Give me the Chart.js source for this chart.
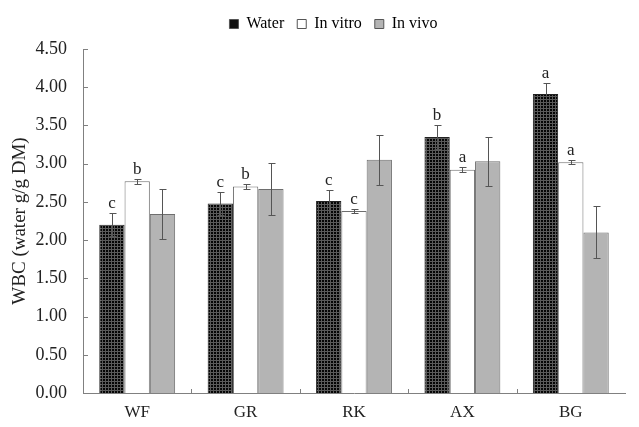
<!DOCTYPE html>
<html>
<head>
<meta charset="utf-8">
<script src="https://cdn.jsdelivr.net/npm/chart.js@4.4.0/dist/chart.umd.min.js"></script>
<style>
  html, body { margin: 0; padding: 0; background: #fff; }
  #wrap { width: 639px; height: 427px; }
</style>
</head>
<body>
<div id="wrap"><canvas id="grafico" width="639" height="427"></canvas></div>
<script>
// dados
const categorias = ['WF', 'GR', 'RK', 'AX', 'BG'];
const water = [2.20, 2.48, 2.51, 3.35, 3.91];
const waterErr = [0.15, 0.15, 0.15, 0.16, 0.14];
const inVitro = [2.77, 2.70, 2.38, 2.92, 3.02];
const inVitroErr = [0.03, 0.03, 0.03, 0.03, 0.03];
const inVivo = [2.34, 2.67, 3.05, 3.03, 2.10];
const inVivoErr = [0.33, 0.34, 0.33, 0.32, 0.34];
const waterLetras = ['c', 'c', 'c', 'b', 'a'];
const inVitroLetras = ['b', 'b', 'c', 'a', 'a'];
const inVivoLetras = ['', '', '', '', ''];
const yTicks = [0, 0.5, 1, 1.5, 2, 2.5, 3, 3.5, 4, 4.5];

const fonte = '"Liberation Serif", "Times New Roman", serif';

// padrão quadriculado da série Water
function criaPadrao() {
    const c = document.createElement('canvas');
    c.width = 3; c.height = 3;
    const g = c.getContext('2d');
    g.fillStyle = '#050505';
    g.fillRect(0, 0, 3, 3);
    g.fillStyle = '#5a5a5a';
    g.fillRect(0, 0, 3, 1);
    g.fillRect(0, 0, 1, 3);
    return document.getElementById('grafico').getContext('2d').createPattern(c, 'repeat');
}

const errosPorSerie = [waterErr, inVitroErr, inVivoErr];
const letrasPorSerie = [waterLetras, inVitroLetras, inVivoLetras];

// barras de erro, letras e marcas internas dos eixos
const extras = {
    id: 'extras',
    afterLayout(chart) {
        // ajusta a posição da legenda, como no original
        if (chart.legend) {
            chart.legend.left += 21;
            chart.legend.right += 21;
            chart.legend.top -= 7;
            chart.legend.bottom -= 7;
        }
    },
    afterDatasetsDraw(chart) {
        const ctx = chart.ctx;
        const y = chart.scales.y;
        const x = chart.scales.x;
        const area = chart.chartArea;
        ctx.save();
        ctx.strokeStyle = '#555';
        ctx.lineWidth = 1;
        chart.data.datasets.forEach(function(ds, d) {
            const meta = chart.getDatasetMeta(d);
            meta.data.forEach(function(bar, i) {
                const v = ds.data[i];
                const e = errosPorSerie[d][i];
                const bx = Math.round(bar.x) + 0.5;
                const yt = Math.round(y.getPixelForValue(v + e)) + 0.5;
                const yb = Math.round(y.getPixelForValue(v - e)) + 0.5;
                ctx.beginPath();
                ctx.moveTo(bx, yt); ctx.lineTo(bx, yb);
                ctx.moveTo(bx - 3, yt); ctx.lineTo(bx + 4, yt);
                ctx.moveTo(bx - 3, yb); ctx.lineTo(bx + 4, yb);
                ctx.stroke();
                const letra = letrasPorSerie[d][i];
                if (letra) {
                    ctx.fillStyle = '#222';
                    ctx.font = '17px ' + fonte;
                    ctx.textAlign = 'center';
                    ctx.textBaseline = 'alphabetic';
                    ctx.fillText(letra, bar.x, yt - 6);
                }
            });
        });
        // marcas do eixo y para dentro
        ctx.strokeStyle = '#808080';
        yTicks.forEach(function(t) {
            const py = Math.round(y.getPixelForValue(t)) + 0.5;
            ctx.beginPath();
            ctx.moveTo(area.left, py); ctx.lineTo(area.left + 5, py);
            ctx.stroke();
        });
        // marcas do eixo x entre categorias
        for (let i = 1; i < categorias.length; i++) {
            const px = Math.round((x.getPixelForValue(i - 1) + x.getPixelForValue(i)) / 2) + 0.5;
            ctx.beginPath();
            ctx.moveTo(px, area.bottom); ctx.lineTo(px, area.bottom - 4);
            ctx.stroke();
        }
        ctx.restore();
    }
};

document.addEventListener('DOMContentLoaded', function() {
    const ctx = document.getElementById('grafico').getContext('2d');
    const padrao = criaPadrao();
    const legendaCores = ['#111', '#fff', '#b4b4b4'];

    new Chart(ctx, {
        type: 'bar',
        data: {
            labels: categorias,
            datasets: [
                { label: 'Water', data: water, backgroundColor: padrao, borderColor: '#222', borderWidth: 1 },
                { label: 'In vitro', data: inVitro, backgroundColor: '#ffffff', borderColor: '#6e6e6e', borderWidth: 1 },
                { label: 'In vivo', data: inVivo, backgroundColor: '#b4b4b4', borderColor: '#6e6e6e', borderWidth: 1 }
            ]
        },
        options: {
            responsive: false,
            animation: false,
            layout: { padding: { left: 0, right: 14, top: 3, bottom: 0 } },
            datasets: { bar: { categoryPercentage: 0.70, barPercentage: 1.0 } },
            plugins: {
                tooltip: { enabled: false },
                legend: {
                    position: 'top',
                    labels: {
                        boxWidth: 9,
                        boxHeight: 9,
                        padding: 13,
                        color: '#222',
                        font: { family: fonte, size: 16 },
                        generateLabels: function(chart) {
                            return chart.data.datasets.map(function(ds, i) {
                                return {
                                    text: ds.label,
                                    fillStyle: legendaCores[i],
                                    strokeStyle: '#555',
                                    lineWidth: 1,
                                    hidden: false,
                                    datasetIndex: i
                                };
                            });
                        }
                    }
                }
            },
            scales: {
                x: {
                    grid: { display: false },
                    border: { display: true, color: '#808080', width: 1 },
                    ticks: { color: '#222', font: { family: fonte, size: 17 }, padding: 1 },
                    afterFit: function(s) { s.height = 34; }
                },
                y: {
                    min: 0,
                    max: 4.5,
                    afterBuildTicks: function(s) { s.ticks = yTicks.map(function(v) { return { value: v }; }); },
                    grid: { display: false },
                    border: { display: true, color: '#808080', width: 1 },
                    ticks: {
                        color: '#222',
                        padding: 8,
                        font: { family: fonte, size: 18 },
                        callback: function(v) { return Number(v).toFixed(2); }
                    },
                    title: {
                        display: true,
                        text: 'WBC (water g/g DM)',
                        color: '#222',
                        font: { family: fonte, size: 19 },
                        padding: { top: 9, bottom: 0 }
                    },
                    afterFit: function(s) { s.width = 83; s.paddingTop = 49; }
                }
            }
        },
        plugins: [extras]
    });
});
</script>
</body>
</html>
